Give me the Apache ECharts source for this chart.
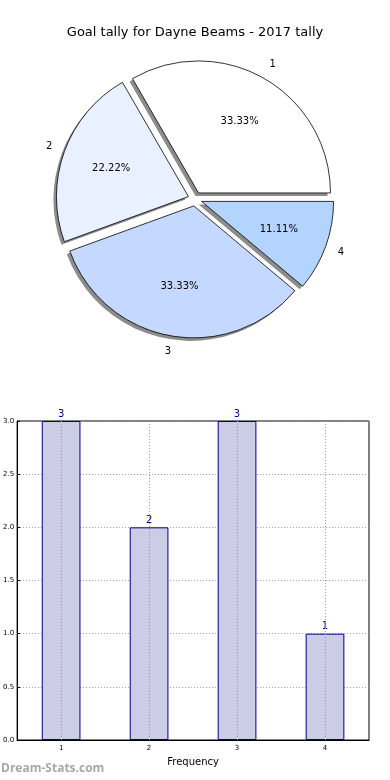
<!DOCTYPE html>
<html>
<head>
<meta charset="utf-8">
<script src="https://cdn.jsdelivr.net/npm/echarts@6/dist/echarts.min.js"></script>
<style>html,body{margin:0;padding:0;background:#fff}#c{width:390px;height:780px}</style>
</head>
<body>
<div id="c"></div>
<script>
var titleText = 'Goal tally for Dayne Beams - 2017 tally';
var categories = ['1', '2', '3', '4'];
var goals = [3, 2, 3, 1];
var sliceColors = ['#ffffff', '#e9f0ff', '#c5d8ff', '#b3d4ff'];
var yTicks = { min: 0, max: 3, interval: 0.5 };
var watermark = 'Dream-Stats.com';

var FONT = 'DejaVu Sans';
var CX = 195, CY = 199;
var R = 132;
var total = goals.reduce(function (a, b) { return a + b; }, 0);

function pieData(colors) {
  return categories.map(function (c, i) {
    var d = { name: c, value: goals[i], selected: true };
    if (colors) d.itemStyle = { color: colors[i] };
    return d;
  });
}

var common = {
  type: 'pie', startAngle: 0, clockwise: false, center: [CX, CY],
  selectedMode: 'multiple', selectedOffset: 7, animation: false,
  emphasis: { disabled: true }, labelLine: { show: false }
};

var chart = echarts.init(document.getElementById('c'), null, { renderer: 'canvas' });
chart.setOption({
  animation: false,
  textStyle: { fontFamily: FONT },
  title: {
    text: titleText, left: 'center', top: 21,
    textStyle: { fontFamily: FONT, fontSize: 13, fontWeight: 'normal', color: '#000' }
  },
  graphic: [{
    type: 'text', left: 1, top: 763, silent: true,
    style: { text: watermark, fill: '#a8a8a8', font: 'bold 12px "Open Sans", "DejaVu Sans", sans-serif' }
  }],
  grid: { left: 17, right: 21, top: 421, bottom: 40, show: true, borderColor: '#000', borderWidth: 1, backgroundColor: 'transparent' },
  xAxis: {
    type: 'category', data: categories,
    axisLine: { lineStyle: { color: '#000' } },
    axisTick: { show: true, alignWithLabel: true, inside: true, length: 3, lineStyle: { color: '#000' } },
    axisLabel: { fontSize: 7, color: '#000', margin: 5, fontFamily: FONT },
    name: 'Frequency', nameLocation: 'middle', nameGap: 17,
    nameTextStyle: { fontSize: 10, color: '#000', fontFamily: FONT },
    splitLine: { show: false }
  },
  yAxis: {
    type: 'value', min: yTicks.min, max: yTicks.max, interval: yTicks.interval,
    axisLine: { show: true, lineStyle: { color: '#000' } },
    axisTick: { show: true, inside: true, length: 3, lineStyle: { color: '#000' } },
    axisLabel: { fontSize: 7, color: '#000', margin: 3, fontFamily: FONT, formatter: function (v) { return v.toFixed(1); } },
    splitLine: { show: true, lineStyle: { color: '#999', type: [1, 2], width: 1 } }
  },
  series: [
    Object.assign({}, common, {
      center: [CX - 3, CY + 3], radius: [0, R], silent: true, z: 1,
      data: pieData(categories.map(function () { return '#8c8c8c'; })),
      label: { show: false },
      itemStyle: { borderWidth: 0 }
    }),
    Object.assign({}, common, {
      radius: [0, R], z: 2,
      data: pieData(sliceColors),
      label: { show: false },
      itemStyle: { borderColor: '#000', borderWidth: 0.8 }
    }),
    Object.assign({}, common, {
      radius: [R * 0.5, R * 0.7], silent: true, z: 5,
      data: pieData(null),
      itemStyle: { color: 'rgba(0,0,0,0)', borderWidth: 0 },
      label: {
        show: true, position: 'inside', fontSize: 10, color: '#000', fontFamily: FONT,
        formatter: function (p) { return (p.value / total * 100).toFixed(2) + '%'; }
      }
    }),
    Object.assign({}, common, {
      radius: [R * 1.02, R * 1.18], silent: true, z: 5,
      data: pieData(null),
      itemStyle: { color: 'rgba(0,0,0,0)', borderWidth: 0 },
      label: { show: true, position: 'inside', formatter: '{b}', fontSize: 10, color: '#000', fontFamily: FONT }
    }),
    {
      type: 'bar', data: goals, barWidth: '44%',
      itemStyle: { color: '#ccccE6', borderColor: '#000080', borderWidth: 1 },
      label: { show: true, position: 'top', distance: 2, color: '#000080', fontSize: 10, fontFamily: FONT },
      markLine: {
        silent: true, symbol: 'none', label: { show: false },
        lineStyle: { color: '#999', type: [1, 2], width: 1 },
        data: categories.map(function (c) { return { xAxis: c }; })
      },
      emphasis: { disabled: true }
    }
  ]
});
</script>
</body>
</html>
